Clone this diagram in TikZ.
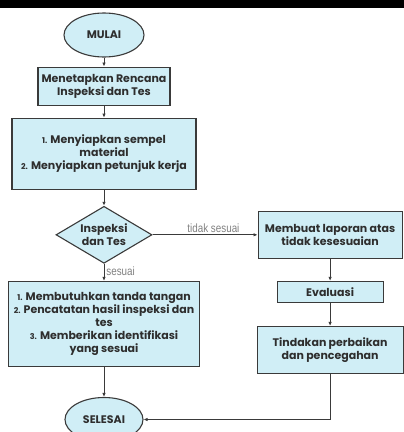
\documentclass[tikz,border=0pt]{standalone}
\usepackage{fontspec}
\newfontfamily\boxfont{Poppins}
\newfontfamily\labelfont{Liberation Sans}[FakeStretch=0.82]
\usetikzlibrary{arrows.meta,positioning,shapes.geometric}
\definecolor{isian}{RGB}{208,238,246}
\definecolor{garis}{RGB}{58,58,58}
\definecolor{teks}{RGB}{46,46,46}

\begin{document}
\begin{tikzpicture}[
  x=1pt,y=-1pt,
  node distance=12pt and 100pt,
  base/.style={draw=garis,line width=1.1pt,fill=isian,text=teks,align=center,inner sep=1pt,
    font=\boxfont\bfseries\fontsize{11}{13.2}\selectfont},
  terminal/.style={base,ellipse,minimum width=80pt,minimum height=44pt},
  proses/.style={base,rectangle,minimum height=38pt},
  keputusan/.style={base,diamond,aspect=1.7,minimum width=96pt,minimum height=57pt,inner sep=0pt},
  alur/.style={draw=garis,line width=.8pt,-{Latex[length=4pt,width=3.5pt]}},
  ket/.style={text=gray,font=\labelfont\fontsize{12}{13}\selectfont,inner sep=2pt}
]
  \useasboundingbox (0,0) rectangle (404,432);
  \fill[black] (0,0) rectangle (404,7.5);

  \newcommand\nom[1]{{\fontsize{8}{9}\selectfont #1}}

  \node[terminal] (mulai) at (104,35) {MULAI};
  \node[proses,minimum width=132pt,below=9pt of mulai] (rencana)
    {Menetapkan Rencana\\Inspeksi dan Tes};
  \node[proses,minimum width=184pt,minimum height=71pt,below=12pt of rencana] (siapkan)
    {\nom{1.} Menyiapkan sempel\\material\\\nom{2.} Menyiapkan petunjuk kerja};
  \node[keputusan,below=16pt of siapkan] (uji) {Inspeksi\\dan Tes};
  \node[proses,minimum width=144pt,minimum height=47pt,right=105pt of uji] (laporan)
    {Membuat laporan atas\\tidak kesesuaian};
  \node[proses,minimum width=191pt,minimum height=85pt,below=17pt of uji] (catat)
    {\nom{1.} Membutuhkan tanda tangan\\\nom{2.} Pencatatan hasil inspeksi dan\\tes\\
     \nom{3.} Memberikan identifikasi\\yang sesuai};
  \node[proses,minimum width=106pt,minimum height=21pt,below=22pt of laporan] (evaluasi) {Evaluasi};
  \node[proses,minimum width=146pt,minimum height=47pt,below=23pt of evaluasi] (tindakan)
    {Tindakan perbaikan\\dan pencegahan};
  \node[terminal,minimum width=78pt,below=30pt of catat] (selesai) {SELESAI};

  \draw[alur] (mulai) -- (rencana);
  \draw[alur] (rencana) -- (siapkan);
  \draw[alur] (siapkan) -- (uji);
  \draw[alur] (uji) -- node[ket,above,pos=.58]{tidak sesuai} (laporan);
  \draw[alur] (uji) -- node[ket,right,pos=.45]{sesuai} (catat);
  \draw[alur] (laporan) -- (evaluasi);
  \draw[alur] (evaluasi) -- (tindakan);
  \draw[alur] (catat) -- (selesai);
  \draw[alur] (tindakan) |- (selesai);
\end{tikzpicture}
\end{document}
